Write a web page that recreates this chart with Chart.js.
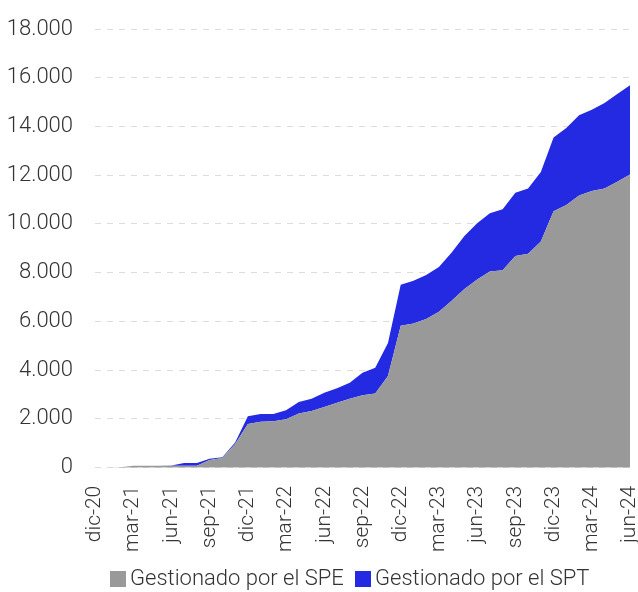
<!DOCTYPE html>
<html>
<head>
<meta charset="utf-8">
<script src="https://cdn.jsdelivr.net/npm/chart.js@4"></script>
<style>
html,body{margin:0;padding:0;background:#fff;}
#wrap{width:638px;height:592px;position:relative;overflow:hidden;}
#c{position:absolute;left:0;top:0;}
.lg{position:absolute;font-family:Roboto,sans-serif;font-weight:300;font-size:22px;line-height:26px;color:#333;white-space:nowrap;}
.bx{position:absolute;width:16px;height:16px;}
</style>
</head>
<body>
<div id="wrap">
  <canvas id="c" width="638" height="592"></canvas>
  <div id="legend"></div>
</div>
<script>
const months = [
  "dic-20","ene-21","feb-21","mar-21","abr-21","may-21","jun-21","jul-21","ago-21","sep-21","oct-21","nov-21",
  "dic-21","ene-22","feb-22","mar-22","abr-22","may-22","jun-22","jul-22","ago-22","sep-22","oct-22","nov-22",
  "dic-22","ene-23","feb-23","mar-23","abr-23","may-23","jun-23","jul-23","ago-23","sep-23","oct-23","nov-23",
  "dic-23","ene-24","feb-24","mar-24","abr-24","may-24","jun-24"
];
const tickLabels = ["dic-20","mar-21","jun-21","sep-21","dic-21","mar-22","jun-22","sep-22","dic-22","mar-23","jun-23","sep-23","dic-23","mar-24","jun-24"];
const spe = [
  0,0,20,80,80,80,80,80,80,320,400,970,
  1790,1890,1910,1990,2220,2330,2490,2670,2830,2970,3050,3760,
  5830,5920,6100,6400,6850,7330,7720,8050,8100,8690,8780,9280,
  10520,10780,11170,11350,11460,11730,12030
];
const total = [
  0,0,20,80,80,80,90,190,190,370,430,1040,
  2110,2200,2200,2360,2700,2830,3080,3260,3490,3900,4100,5120,
  7510,7670,7910,8240,8830,9510,10030,10440,10600,11280,11460,12130,
  13550,13940,14460,14690,14960,15330,15690
];
const spt = total.map((t,i)=>Math.max(0, t - spe[i]));
const seriesNames = ["Gestionado por el SPE","Gestionado por el SPT"];
const seriesColors = ['#999999', '#2429e2'];

const txt = '#333333';
const chart = new Chart(document.getElementById('c'), {
  type: 'line',
  data: {
    labels: months,
    datasets: [
      {label: seriesNames[0], data: spe, fill: 'origin', backgroundColor: seriesColors[0], borderColor: seriesColors[0], borderWidth: 0, pointRadius: 0, tension: 0},
      {label: seriesNames[1], data: spt, fill: '-1', backgroundColor: seriesColors[1], borderColor: seriesColors[1], borderWidth: 0, pointRadius: 0, tension: 0}
    ]
  },
  options: {
    responsive: false,
    animation: false,
    layout: {padding: {left: 0, right: 8, top: 29, bottom: 30}},
    plugins: {
      legend: {display: false},
      tooltip: {enabled: false}
    },
    scales: {
      x: {
        offset: false,
        grid: {display: false},
        border: {display: false},
        afterFit: s => { s.paddingRight = 0; s.paddingLeft = 0; },
        ticks: {
          autoSkip: false, maxRotation: 90, minRotation: 90,
          color: txt, font: {family: 'Roboto', size: 21, weight: '300'},
          padding: 10,
          callback: function(v, i){ const l = months[i]; return tickLabels.includes(l) ? l : ''; }
        }
      },
      y: {
        stacked: true,
        min: 0, max: 18000,
        grid: {color: '#dddddd', lineWidth: 1, drawTicks: false},
        border: {display: false, dash: [6,6]},
        afterFit: s => { s.width = 95; s.paddingTop = 0; s.paddingBottom = 0; },
        ticks: {
          stepSize: 2000, color: txt, padding: 22,
          font: {family: 'Roboto', size: 22, weight: '300'},
          callback: v => v === 0 ? '0' : v.toLocaleString('de-DE')
        }
      }
    }
  }
});

// HTML legend built from the dataset names/colours
const lg = document.getElementById('legend');
const pos = [{box: 110, text: 130}, {box: 355, text: 375}];
seriesNames.forEach((n, i) => {
  const b = document.createElement('div');
  b.className = 'bx';
  b.style.left = pos[i].box + 'px';
  b.style.top = '571px';
  b.style.background = seriesColors[i];
  lg.appendChild(b);
  const t = document.createElement('div');
  t.className = 'lg';
  t.style.left = pos[i].text + 'px';
  t.style.top = '565px';
  t.textContent = n;
  lg.appendChild(t);
});
</script>
</body>
</html>
